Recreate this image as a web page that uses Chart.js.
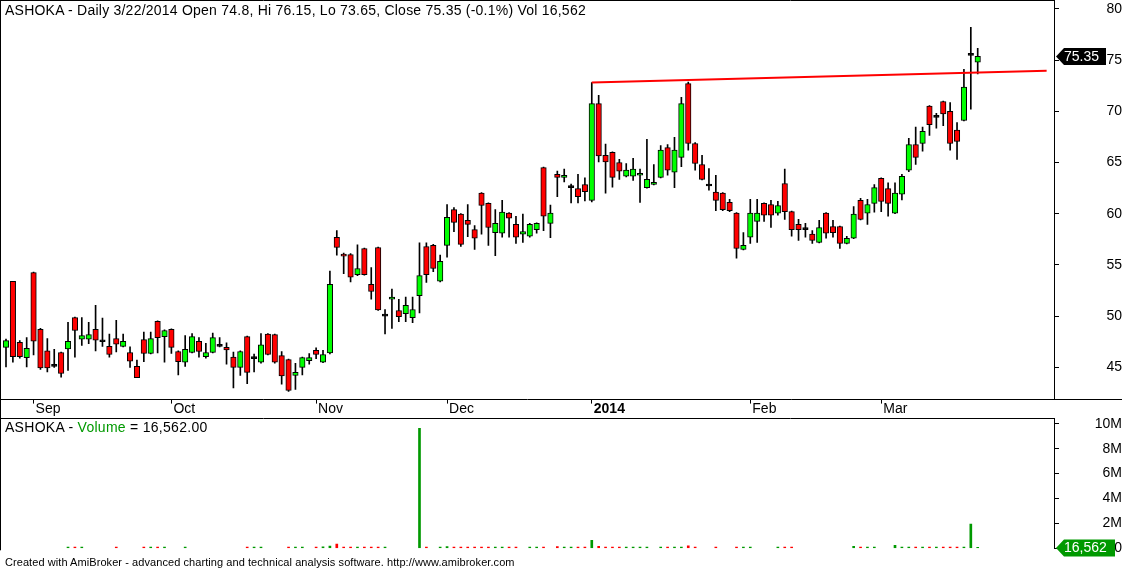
<!DOCTYPE html>
<html><head><meta charset="utf-8">
<script src="https://cdn.jsdelivr.net/npm/chart.js@4.4.0/dist/chart.umd.min.js"></script>
<style>
html,body{margin:0;padding:0;background:#fff;}
#wrap{position:relative;width:1122px;height:570px;overflow:hidden;font-family:Arial,"Liberation Sans",sans-serif;}
#c1{position:absolute;left:0;top:0;}
#c2{position:absolute;left:0;top:408px;}
.t{position:absolute;white-space:nowrap;color:#000;}
#title{left:5px;top:2px;font-size:14px;line-height:16px;letter-spacing:0.23px;}
#vtitle{left:5px;top:419px;font-size:14px;line-height:16px;letter-spacing:0.28px;}
#foot{left:5px;top:556px;font-size:11px;line-height:13px;letter-spacing:0.07px;}
</style></head>
<body><div id="wrap">
<canvas id="c1" width="1122" height="418" style="width:1122px;height:418px"></canvas>
<canvas id="c2" width="1122" height="162" style="width:1122px;height:162px"></canvas>
<div class="t" id="title">ASHOKA - Daily 3/22/2014 Open 74.8, Hi 76.15, Lo 73.65, Close 75.35 (-0.1%) Vol 16,562</div>
<div class="t" id="vtitle">ASHOKA - <span style="color:#009900">Volume</span> = 16,562.00</div>
<div class="t" id="foot">Created with AmiBroker - advanced charting and technical analysis software. http://www.amibroker.com</div>
</div>
<script>
// ---- data (daily bars, late Aug 2013 .. 3/22/2014) ----
const open = [
46.95,53.4,47.45,45.95,54.25,48.7,46.6,45.1,46.45,46.8,
49.85,47.75,47.75,48.7,47.5,47.05,47.8,47.05,46.45,45.1,
47.7,46.35,49.5,48.0,48.7,46.55,45.5,46.45,47.55,46.05,
46.45,47.05,46.95,46.0,45.0,48.0,45.85,45.5,48.25,48.2,
46.15,45.75,44.2,45.0,45.65,46.65,45.5,46.4,57.7,56.05,
56.0,54.05,56.6,53.1,56.7,50.0,51.65,50.55,50.25,49.85,
52.0,56.8,56.9,53.4,56.9,60.4,59.95,59.35,58.45,62.0,
61.0,58.15,58.1,60.05,58.95,58.0,57.8,58.45,64.5,59.05,
63.85,63.55,62.55,62.45,62.85,61.3,70.75,65.7,66.0,65.0,
63.65,63.65,63.75,62.55,62.85,63.55,66.45,64.05,65.5,72.7,
66.85,64.8,62.7,62.1,62.0,61.1,60.05,56.5,57.7,59.25,
61.0,60.9,60.05,62.95,60.2,58.95,58.45,58.0,57.2,60.05,
58.75,58.75,57.1,57.6,61.3,60.05,61.0,63.45,62.45,60.05,
61.9,64.25,66.75,66.85,70.5,69.4,70.95,70.0,68.15,69.1,
75.45,74.8];
const high = [
47.75,53.4,47.6,47.9,54.3,48.8,47.8,46.75,46.5,49.4,
49.9,49.85,49.4,51.05,49.8,48.25,49.6,48.25,47.0,45.7,
48.45,48.45,49.55,48.65,48.75,46.6,48.1,48.3,47.9,47.35,
48.35,47.9,47.4,46.5,46.6,48.05,46.3,48.3,48.3,48.25,
46.55,45.8,45.4,46.0,46.35,46.9,46.65,54.4,58.35,56.15,
56.1,56.95,56.65,54.75,56.75,50.65,52.65,51.65,51.85,51.85,
57.15,57.15,57.0,55.95,60.9,60.6,60.0,60.9,58.85,62.05,
61.05,60.4,61.3,60.1,59.75,59.95,59.05,59.1,64.55,60.85,
64.15,64.35,62.9,63.85,63.5,72.8,71.55,66.8,66.05,65.3,
64.9,65.4,64.35,67.25,64.8,66.65,66.75,67.45,71.35,72.85,
66.95,65.7,64.4,63.75,62.05,61.4,60.1,58.15,61.4,61.4,
61.05,61.3,61.2,64.35,60.25,59.45,59.05,58.35,59.35,60.1,
59.35,58.8,57.8,60.7,61.5,61.4,62.85,63.5,63.0,63.0,
63.85,67.35,68.45,68.45,70.55,69.8,71.0,70.85,68.9,74.1,
78.2,76.15];
const low = [
45.05,45.5,45.9,45.05,46.2,44.8,44.55,45.0,44.05,44.7,
46.0,47.15,47.3,46.6,47.05,46.0,46.5,47.0,45.0,44.0,
45.55,46.3,46.4,45.5,46.35,44.25,45.1,46.4,46.0,45.9,
46.4,47.0,45.3,43.0,44.2,43.4,44.55,45.4,46.2,45.4,
43.35,42.65,42.85,44.25,45.3,45.85,45.45,46.3,55.95,54.15,
53.35,53.95,54.0,51.65,50.55,48.25,48.8,49.45,49.45,49.35,
50.3,53.3,54.35,53.35,55.75,58.25,56.8,57.75,56.5,58.0,
56.9,55.9,57.7,57.7,57.1,57.2,57.7,58.1,58.35,57.65,
61.65,63.1,61.05,61.05,61.25,61.15,65.05,62.0,62.6,63.35,
63.6,63.25,61.1,62.5,62.8,63.5,63.75,62.55,64.6,66.2,
64.25,63.3,62.3,60.3,60.3,60.2,55.65,56.45,57.1,57.2,
59.25,58.65,59.85,59.45,57.8,57.4,57.7,57.1,57.15,57.6,
57.7,56.6,57.05,57.55,59.4,58.95,60.15,60.2,59.75,60.0,
61.35,64.1,64.8,66.1,67.65,68.35,68.6,66.2,65.3,69.05,
70.2,73.65];
const close = [
47.6,46.05,46.05,46.85,47.55,44.95,44.95,45.1,44.4,47.55,
48.6,48.1,48.2,47.65,47.5,46.25,47.25,47.55,45.6,44.0,
46.35,47.8,47.9,48.6,46.95,45.55,46.75,48.0,46.55,46.45,
47.9,47.05,46.7,45.0,46.55,44.5,45.85,47.2,46.25,45.5,
44.15,42.75,44.5,45.95,45.95,46.25,46.25,53.1,56.7,55.85,
53.8,54.65,54.05,52.4,50.6,50.0,51.85,49.95,51.05,50.65,
53.95,54.05,54.65,55.35,59.65,59.15,57.0,58.95,57.6,60.8,
58.65,59.05,60.15,59.55,57.7,58.25,58.95,59.05,59.75,60.05,
63.55,63.75,62.55,61.65,62.15,70.75,65.65,65.05,63.55,64.15,
64.25,64.35,63.95,63.35,63.05,66.2,64.25,66.2,70.75,66.85,
64.9,63.35,62.7,61.3,60.4,60.3,56.6,56.9,60.05,60.05,
59.85,59.85,60.8,60.2,58.45,58.45,58.45,57.4,58.65,58.1,
58.15,57.1,57.6,59.95,59.45,60.9,62.55,61.2,61.0,62.0,
63.65,66.75,65.5,68.05,68.7,69.4,69.75,66.85,67.05,72.35,
75.45,75.35];
const volume = [
0,0,0,0,0,0,0,0,0,100000,
90000,100000,0,0,0,0,90000,0,0,0,
90000,100000,90000,100000,0,0,90000,0,0,0,
0,0,0,0,0,100000,90000,100000,0,0,
0,100000,90000,100000,0,100000,110000,180000,330000,100000,
100000,100000,100000,100000,100000,100000,0,0,0,0,
9640000,100000,0,100000,140000,100000,100000,100000,100000,100000,
100000,100000,100000,100000,100000,0,100000,100000,100000,0,
140000,100000,100000,100000,100000,650000,150000,100000,100000,100000,
100000,100000,100000,100000,0,100000,100000,100000,100000,200000,
100000,0,0,100000,0,0,100000,100000,100000,0,
0,0,100000,100000,100000,0,0,0,0,0,
0,0,0,150000,100000,100000,100000,0,0,230000,
100000,100000,100000,100000,100000,100000,100000,100000,100000,100000,
1950000,16562];
// month ticks (bar index of first trading day) and their labels
const monthTicks  = [4, 24, 45, 64, 85, 108, 127];
const monthLabels = ['Sep','Oct','Nov','Dec','2014','Feb','Mar'];
const priceTicks  = [45, 50, 55, 60, 65, 70, 75, 80];
const volTicks    = [0, 2000000, 4000000, 6000000, 8000000, 10000000];
// hand-drawn resistance line (bar index, price)
const trendX = [85, 151];
const trendY = [72.8, 73.95];

// ---- chart ----
const F = 'Arial, "Liberation Sans", sans-serif';
Chart.defaults.font.family = F;
Chart.defaults.font.size = 14;
Chart.defaults.color = '#000';
const UP = '#00FF00', DN = '#FF0000', VUP = '#009900';
const X_MIN = -0.87, X_MAX = 152.07;
const idx = close.map((_, i) => i);
const lastClose = close[close.length - 1];
const lastVol = volume[volume.length - 1];

function tag(ctx, xTip, y, w, fill, text) {
  ctx.save();
  ctx.fillStyle = fill;
  ctx.beginPath();
  ctx.moveTo(xTip, y);
  ctx.lineTo(xTip + 8, y - 8.5);
  ctx.lineTo(xTip + w, y - 8.5);
  ctx.lineTo(xTip + w, y + 8.5);
  ctx.lineTo(xTip + 8, y + 8.5);
  ctx.closePath();
  ctx.fill();
  ctx.fillStyle = '#fff';
  ctx.font = '14px ' + F;
  ctx.textBaseline = 'middle';
  ctx.textAlign = 'left';
  ctx.fillText(text, xTip + 8, y + 0.5);
  ctx.restore();
}

const frame1 = {
  id: 'frame1',
  afterDraw(chart) {
    const ctx = chart.ctx, a = chart.chartArea;
    ctx.save();
    ctx.strokeStyle = '#000'; ctx.lineWidth = 1;
    ctx.beginPath();
    ctx.moveTo(0, 0.5); ctx.lineTo(a.right, 0.5);
    ctx.moveTo(0.5, 0); ctx.lineTo(0.5, 418);
    ctx.moveTo(a.right, Math.round(a.bottom) - 0.5); ctx.lineTo(1122, Math.round(a.bottom) - 0.5);
    ctx.stroke();
    ctx.restore();
    const y = chart.scales.y.getPixelForValue(lastClose);
    tag(ctx, a.right + 2, y, 50, '#000', lastClose.toFixed(2));
  }
};
const frame2 = {
  id: 'frame2',
  afterDraw(chart) {
    const ctx = chart.ctx, a = chart.chartArea;
    ctx.save();
    ctx.strokeStyle = '#000'; ctx.lineWidth = 1;
    ctx.beginPath();
    const t = Math.round(a.top) + 0.5;
    ctx.moveTo(0, t); ctx.lineTo(a.right, t);
    ctx.moveTo(0.5, t); ctx.lineTo(0.5, a.bottom + 2);
    ctx.stroke();
    ctx.restore();
    const y = chart.scales.y.getPixelForValue(lastVol);
    tag(ctx, a.right + 2, y, 59, VUP, lastVol.toLocaleString('en-US'));
  }
};

new Chart(document.getElementById('c1'), {
  type: 'bar',
  data: { datasets: [
    { type: 'line', label: 'Resistance', data: trendX.map((x, i) => ({x, y: trendY[i]})),
      borderColor: '#FF0000', borderWidth: 2, pointRadius: 0, order: 0 },
    { label: 'Body', data: idx.map(i => ({x: i, y: [open[i], close[i]]})),
      backgroundColor: idx.map(i => close[i] > open[i] ? UP : (close[i] < open[i] ? DN : '#000')),
      borderColor: '#000', borderWidth: 1, borderSkipped: false,
      barThickness: 5.5, minBarLength: 2, grouped: false, order: 1 },
    { label: 'Wick', data: idx.map(i => ({x: i, y: [low[i], high[i]]})),
      backgroundColor: '#000', borderWidth: 0, barThickness: 1, grouped: false, order: 2 }
  ]},
  options: {
    responsive: false, animation: false, devicePixelRatio: 1,
    layout: { padding: 0 },
    plugins: { legend: { display: false }, tooltip: { enabled: false } },
    scales: {
      x: {
        type: 'linear', min: X_MIN, max: X_MAX, offset: false, position: 'bottom',
        grid: { drawOnChartArea: false, drawTicks: true, tickLength: 4, color: '#000', offset: false },
        border: { display: true, color: '#000' },
        afterBuildTicks: s => { s.ticks = monthTicks.map(v => ({value: v})); },
        ticks: {
          autoSkip: false, maxRotation: 0, minRotation: 0, align: 'start', labelOffset: 2, padding: -3,
          color: '#000',
          font: c => ({ size: 14, family: F, weight: (c.tick && c.tick.value === 85) ? 'bold' : 'normal' }),
          callback: (v, i) => monthLabels[i]
        },
        afterFit: s => { s.height = 18.4; s.paddingLeft = 0; s.paddingRight = 0; }
      },
      y: {
        type: 'linear', position: 'right', min: 41.85, max: 80.86,
        grid: { drawOnChartArea: false, drawTicks: true, tickLength: 5, color: '#000' },
        border: { display: true, color: '#000' },
        afterBuildTicks: s => { s.ticks = priceTicks.map(v => ({value: v})); },
        ticks: { crossAlign: 'far', padding: 39, color: '#000', font: { size: 14 }, callback: v => String(v) },
        afterFit: s => { s.width = 68; s.paddingTop = 0; s.paddingBottom = 0; }
      }
    }
  },
  plugins: [frame1]
});

new Chart(document.getElementById('c2'), {
  type: 'bar',
  data: { datasets: [
    { label: 'Volume', data: idx.map(i => ({x: i, y: volume[i]})),
      backgroundColor: idx.map(i => volume[i] === 0 ? 'rgba(0,0,0,0)' : (close[i] >= open[i] ? VUP : DN)),
      borderWidth: 0, barThickness: 2, minBarLength: 1, grouped: false }
  ]},
  options: {
    responsive: false, animation: false, devicePixelRatio: 1,
    layout: { padding: { top: 10.2, bottom: 21.7, left: 0, right: 0 } },
    plugins: { legend: { display: false }, tooltip: { enabled: false } },
    scales: {
      x: { type: 'linear', min: X_MIN, max: X_MAX, offset: false, display: false },
      y: {
        type: 'linear', position: 'right', min: 0, max: 10450000,
        grid: { drawOnChartArea: false, drawTicks: true, tickLength: 5, color: '#000' },
        border: { display: true, color: '#000' },
        afterBuildTicks: s => { s.ticks = volTicks.map(v => ({value: v})); },
        ticks: { crossAlign: 'far', padding: 29, color: '#000', font: { size: 14 },
                 callback: v => v === 0 ? '0' : (v / 1000000) + 'M' },
        afterFit: s => { s.width = 68; s.paddingTop = 0; s.paddingBottom = 0; }
      }
    }
  },
  plugins: [frame2]
});
</script>
</body></html>
